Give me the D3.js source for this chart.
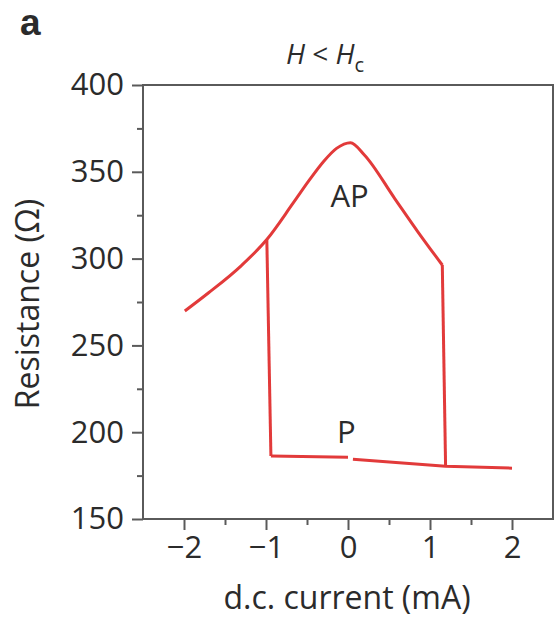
<!DOCTYPE html>
<html>
<head>
<meta charset="utf-8">
<script src="https://cdn.jsdelivr.net/npm/d3@7"></script>
<style>
  html, body { margin: 0; padding: 0; background: #fff; }
  svg { display: block; }
  text { font-family: "Open Sans", "DejaVu Sans", sans-serif; fill: #2b2b2b; }
</style>
</head>
<body>
<svg id="chart" width="555" height="618"></svg>
<script>
// Resistance vs. d.c. current below the switching field (hysteresis loop)
const xTicks = [-2, -1, 0, 1, 2];
const xMinorTicks = [-1.5, -0.5, 0.5, 1.5];
const yTicks = [150, 200, 250, 300, 350, 400];
const yMinorTicks = [175, 225, 275, 325, 375];

// antiparallel (AP) branch, swept from negative to positive current
const apCurrent    = [-1.99, -1.70, -1.30, -0.99, -0.67, -0.47, -0.30, -0.14, 0.03, 0.20, 0.57, 0.85, 1.15];
const apResistance = [269.8, 280.3, 296.0, 311.0, 331.9, 345.3, 355.8, 363.5, 366.8, 359.7, 334.6, 315.6, 296.3];

// parallel (P) branch, two recorded segments
const pCurrentLeft     = [-0.94, 0.0];
const pResistanceLeft  = [186.3, 185.6];
const pCurrentRight    = [0.06, 1.19, 2.0];
const pResistanceRight = [184.4, 180.4, 179.3];

// switching events
const switchApToPCurrent    = [1.15, 1.19];
const switchApToPResistance = [296.3, 180.4];
const switchPToApCurrent    = [-0.99, -0.94];
const switchPToApResistance = [311.0, 186.3];

const plotLeft = 143, plotRight = 553, plotTop = 85, plotBottom = 519;
const svg = d3.select("#chart");

const x = d3.scaleLinear().domain([-2.5, 2.5]).range([plotLeft, plotRight]);
const y = d3.scaleLinear().domain([150, 400]).range([plotBottom, plotTop]);

const axisColor = "#5a5a5a";

// frame
svg.append("rect")
  .attr("x", plotLeft).attr("y", plotTop)
  .attr("width", plotRight - plotLeft).attr("height", plotBottom - plotTop)
  .attr("fill", "none").attr("stroke", axisColor).attr("stroke-width", 2);

function styleAxis(g) {
  g.select(".domain").remove();
  g.selectAll("line").attr("stroke", axisColor).attr("stroke-width", 2);
  g.selectAll("text")
    .style("font-family", "'Open Sans', 'DejaVu Sans', sans-serif")
    .style("font-size", "31px").attr("fill", "#2b2b2b");
}

// y axis
svg.append("g").attr("transform", `translate(${plotLeft},0)`)
  .call(d3.axisLeft(y).tickValues(yMinorTicks).tickSize(6).tickFormat(""))
  .call(styleAxis);
svg.append("g").attr("transform", `translate(${plotLeft},0)`)
  .call(d3.axisLeft(y).tickValues(yTicks).tickSize(11).tickPadding(8).tickFormat(d3.format("d")))
  .call(styleAxis);

// x axis
svg.append("g").attr("transform", `translate(0,${plotBottom})`)
  .call(d3.axisBottom(x).tickValues(xMinorTicks).tickSize(6).tickFormat(""))
  .call(styleAxis);
svg.append("g").attr("transform", `translate(0,${plotBottom})`)
  .call(d3.axisBottom(x).tickValues(xTicks).tickSize(11).tickPadding(6).tickFormat(d3.format("d")))
  .call(styleAxis);

// curves
const red = "#e23a3a";
const smooth = d3.line().x(d => x(d[0])).y(d => y(d[1])).curve(d3.curveMonotoneX);
const straight = d3.line().x(d => x(d[0])).y(d => y(d[1]));
const zip = (a, b) => a.map((v, i) => [v, b[i]]);

const segments = [
  [smooth, zip(apCurrent, apResistance)],
  [straight, zip(switchApToPCurrent, switchApToPResistance)],
  [straight, zip(switchPToApCurrent, switchPToApResistance)],
  [straight, zip(pCurrentLeft, pResistanceLeft)],
  [straight, zip(pCurrentRight, pResistanceRight)]
];
segments.forEach(([gen, pts]) => {
  svg.append("path").attr("d", gen(pts))
    .attr("fill", "none").attr("stroke", red)
    .attr("stroke-width", 3).attr("stroke-linejoin", "round");
});

// state labels
svg.append("text").attr("x", x(0.02)).attr("y", y(330)).attr("text-anchor", "middle")
  .style("font-size", "31px").text("AP");
svg.append("text").attr("x", x(-0.02)).attr("y", y(194)).attr("text-anchor", "middle")
  .style("font-size", "31px").text("P");

// axis titles
svg.append("text").attr("x", (plotLeft + plotRight) / 2 - 1).attr("y", 609).attr("text-anchor", "middle")
  .style("font-size", "32px").text("d.c. current (mA)");
svg.append("text").attr("transform", `translate(39,${(plotTop + plotBottom) / 2 + 2}) rotate(-90)`)
  .attr("text-anchor", "middle").style("font-size", "32px").text("Resistance (Ω)");

// panel title
const title = svg.append("text").attr("x", 325).attr("y", 64).attr("text-anchor", "middle")
  .style("font-size", "28px");
title.append("tspan").style("font-style", "italic").text("H");
title.append("tspan").text(" < ");
title.append("tspan").style("font-style", "italic").text("H");
title.append("tspan").attr("dy", 8).style("font-size", "20px").text("c");

// panel letter
svg.append("text").attr("x", 20).attr("y", 35)
  .style("font-family", "'Liberation Sans', Arial, sans-serif")
  .style("font-size", "37px").style("font-weight", "bold").text("a");
</script>
</body>
</html>
